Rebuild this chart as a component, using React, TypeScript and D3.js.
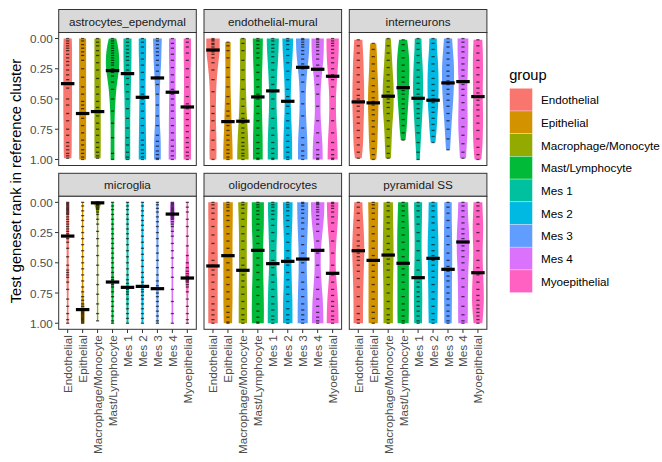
import React from 'react';
import * as d3 from 'd3';

// categories
const groups = [
  'Endothelial',
  'Epithelial',
  'Macrophage/Monocyte',
  'Mast/Lymphocyte',
  'Mes 1',
  'Mes 2',
  'Mes 3',
  'Mes 4',
  'Myoepithelial',
];
const groupColors = ['#F8766D', '#D39200', '#93AA00', '#00BA38', '#00C19F', '#00B9E3', '#619CFF', '#DB72FB', '#FF61C3'];
const clusters = ['astrocytes_ependymal', 'endothelial-mural', 'interneurons', 'microglia', 'oligodendrocytes', 'pyramidal SS'];
const yTicks = [0, 0.25, 0.5, 0.75, 1];

// median rank per group, one array per reference cluster
const mediansAstro = [0.373, 0.62, 0.604, 0.265, 0.29, 0.486, 0.326, 0.444, 0.566];
const mediansEndoMural = [0.095, 0.687, 0.684, 0.483, 0.433, 0.519, 0.238, 0.254, 0.312];
const mediansInter = [0.524, 0.532, 0.477, 0.406, 0.494, 0.51, 0.367, 0.356, 0.48];
const mediansMicro = [0.279, 0.887, 0.004, 0.659, 0.703, 0.695, 0.714, 0.097, 0.626];
const mediansOligo = [0.526, 0.441, 0.562, 0.397, 0.507, 0.488, 0.469, 0.397, 0.587];
const mediansPyr = [0.4, 0.48, 0.436, 0.504, 0.623, 0.463, 0.554, 0.328, 0.582];

// violin width (relative to max) at 11 steps from min to max rank
const widthsAstro = [
  [0.6, 0.65, 0.65, 0.65, 0.65, 0.65, 0.65, 0.62, 0.6, 0.6, 0.55],
  [0.52, 0.52, 0.52, 0.52, 0.52, 0.52, 0.52, 0.52, 0.52, 0.52, 0.5],
  [0.47, 0.47, 0.47, 0.47, 0.47, 0.47, 0.47, 0.47, 0.47, 0.47, 0.45],
  [0.55, 0.9, 1.0, 0.85, 0.6, 0.45, 0.35, 0.3, 0.28, 0.28, 0.28],
  [0.6, 0.6, 0.58, 0.55, 0.5, 0.45, 0.42, 0.4, 0.4, 0.4, 0.4],
  [0.55, 0.55, 0.5, 0.48, 0.46, 0.46, 0.48, 0.5, 0.52, 0.55, 0.55],
  [0.65, 0.6, 0.55, 0.45, 0.38, 0.32, 0.32, 0.36, 0.45, 0.5, 0.5],
  [0.5, 0.5, 0.48, 0.46, 0.46, 0.48, 0.5, 0.52, 0.52, 0.55, 0.55],
  [0.55, 0.55, 0.52, 0.5, 0.5, 0.52, 0.55, 0.55, 0.55, 0.55, 0.55],
];
const widthsEndoMural = [
  [1.0, 0.98, 0.8, 0.62, 0.5, 0.45, 0.43, 0.45, 0.5, 0.52, 0.5],
  [0.4, 0.4, 0.38, 0.38, 0.4, 0.45, 0.5, 0.55, 0.62, 0.68, 0.7],
  [0.45, 0.45, 0.42, 0.42, 0.45, 0.5, 0.55, 0.65, 0.75, 0.82, 0.85],
  [0.75, 0.72, 0.68, 0.62, 0.6, 0.6, 0.62, 0.66, 0.7, 0.72, 0.72],
  [0.9, 0.85, 0.75, 0.65, 0.58, 0.55, 0.58, 0.65, 0.72, 0.75, 0.75],
  [0.8, 0.75, 0.65, 0.55, 0.48, 0.45, 0.48, 0.55, 0.62, 0.65, 0.65],
  [1.0, 0.95, 0.8, 0.62, 0.5, 0.45, 0.48, 0.55, 0.65, 0.7, 0.7],
  [0.92, 0.9, 0.8, 0.62, 0.48, 0.42, 0.42, 0.5, 0.62, 0.72, 0.75],
  [0.92, 0.9, 0.82, 0.7, 0.58, 0.5, 0.5, 0.55, 0.65, 0.72, 0.75],
];
const widthsInter = [
  [0.6, 0.7, 0.78, 0.82, 0.86, 0.88, 0.85, 0.8, 0.75, 0.68, 0.5],
  [0.45, 0.55, 0.6, 0.68, 0.75, 0.78, 0.75, 0.7, 0.65, 0.58, 0.45],
  [0.4, 0.5, 0.6, 0.7, 0.8, 0.82, 0.78, 0.65, 0.55, 0.48, 0.4],
  [0.6, 0.78, 0.9, 0.94, 0.92, 0.88, 0.8, 0.7, 0.6, 0.5, 0.35],
  [0.5, 0.55, 0.65, 0.72, 0.75, 0.72, 0.65, 0.55, 0.45, 0.35, 0.25],
  [0.55, 0.6, 0.7, 0.78, 0.82, 0.82, 0.78, 0.7, 0.6, 0.5, 0.35],
  [0.6, 0.72, 0.84, 0.9, 0.88, 0.82, 0.72, 0.6, 0.5, 0.4, 0.3],
  [0.8, 0.8, 0.75, 0.7, 0.65, 0.65, 0.68, 0.7, 0.65, 0.55, 0.45],
  [0.65, 0.72, 0.75, 0.75, 0.72, 0.72, 0.75, 0.75, 0.72, 0.65, 0.5],
];
const widthsMicro = [
  [0.2, 0.2, 0.2, 0.2, 0.15, 0.15, 0.18, 0.15, 0.12, 0.12, 0.15],
  [0.1, 0.1, 0.1, 0.1, 0.1, 0.1, 0.1, 0.12, 0.18, 0.28, 0.25],
  [0.6, 0.15, 0.1, 0.1, 0.1, 0.1, 0.1, 0.1, 0.1, 0.1, 0.1],
  [0.15, 0.15, 0.15, 0.15, 0.15, 0.15, 0.18, 0.2, 0.15, 0.15, 0.15],
  [0.15, 0.15, 0.15, 0.15, 0.15, 0.15, 0.15, 0.2, 0.18, 0.15, 0.15],
  [0.15, 0.15, 0.15, 0.15, 0.15, 0.15, 0.15, 0.18, 0.16, 0.15, 0.15],
  [0.15, 0.15, 0.15, 0.15, 0.15, 0.15, 0.15, 0.18, 0.16, 0.15, 0.15],
  [0.3, 0.35, 0.22, 0.15, 0.12, 0.12, 0.12, 0.12, 0.12, 0.12, 0.12],
  [0.12, 0.12, 0.12, 0.12, 0.15, 0.22, 0.3, 0.2, 0.12, 0.12, 0.12],
];
const widthsOligo = [
  [0.7, 0.7, 0.68, 0.68, 0.7, 0.72, 0.72, 0.7, 0.7, 0.7, 0.7],
  [0.72, 0.72, 0.7, 0.68, 0.68, 0.68, 0.68, 0.68, 0.68, 0.65, 0.62],
  [0.7, 0.65, 0.6, 0.58, 0.58, 0.58, 0.58, 0.6, 0.62, 0.62, 0.62],
  [0.9, 0.9, 0.88, 0.82, 0.78, 0.78, 0.8, 0.85, 0.88, 0.9, 0.88],
  [0.72, 0.7, 0.65, 0.6, 0.55, 0.55, 0.6, 0.68, 0.72, 0.75, 0.75],
  [0.72, 0.7, 0.65, 0.58, 0.55, 0.55, 0.58, 0.62, 0.68, 0.7, 0.7],
  [0.82, 0.8, 0.75, 0.68, 0.62, 0.6, 0.62, 0.68, 0.72, 0.75, 0.75],
  [1.0, 0.95, 0.8, 0.62, 0.48, 0.45, 0.5, 0.62, 0.75, 0.82, 0.85],
  [0.85, 0.82, 0.72, 0.58, 0.48, 0.45, 0.52, 0.65, 0.78, 0.85, 0.88],
];
const widthsPyr = [
  [0.6, 0.68, 0.78, 0.86, 0.9, 0.85, 0.8, 0.75, 0.72, 0.7, 0.7],
  [0.75, 0.72, 0.7, 0.7, 0.7, 0.7, 0.7, 0.7, 0.7, 0.7, 0.68],
  [0.7, 0.72, 0.75, 0.78, 0.8, 0.78, 0.75, 0.72, 0.7, 0.7, 0.7],
  [0.75, 0.8, 0.85, 0.88, 0.88, 0.85, 0.85, 0.85, 0.85, 0.85, 0.82],
  [0.6, 0.58, 0.55, 0.52, 0.52, 0.55, 0.58, 0.6, 0.62, 0.6, 0.58],
  [0.65, 0.68, 0.72, 0.78, 0.8, 0.78, 0.75, 0.72, 0.7, 0.68, 0.65],
  [0.55, 0.55, 0.58, 0.6, 0.62, 0.62, 0.6, 0.58, 0.58, 0.56, 0.55],
  [0.7, 0.75, 0.85, 0.92, 0.92, 0.85, 0.78, 0.75, 0.72, 0.72, 0.7],
  [0.65, 0.72, 0.78, 0.75, 0.7, 0.72, 0.78, 0.85, 0.88, 0.8, 0.65],
];

// individual gene set ranks (x100), one string per group
const pointsAstro = [
  '00 02 04 06 08 10 13 16 19 22 26 30 34 41 50 55 62 68 75 80 86 89 92 95 97 99',
  '00 02 05 08 11 14 18 25 32 40 46 52 55 58 62 66 72 78 84 88 92 95 98 100',
  '00 03 06 10 14 20 26 33 40 46 52 57 60 64 70 75 80 86 90 94 97 99',
  '00 02 04 06 08 10 12 14 16 18 20 22 25 28 31 36 42 50 60 70 82 95 100',
  '00 03 06 09 12 15 18 22 26 29 33 38 44 50 58 66 74 82 88 94 98 100',
  '00 03 07 12 17 22 28 34 40 46 50 54 60 66 72 78 84 88 92 95 98 100',
  '00 02 05 08 11 14 18 22 27 32 38 46 55 64 72 80 85 89 93 96 99 100',
  '00 04 08 13 18 24 30 36 42 46 50 55 60 66 72 78 84 89 93 97 100',
  '00 03 07 12 18 25 32 40 48 54 58 62 67 72 77 82 86 90 94 97 100',
];
const pointsEndoMural = [
  '00 01 02 04 05 07 09 11 13 16 20 26 34 44 56 62 68 76 84 92 100',
  '03 06 10 16 24 32 40 48 54 60 64 68 72 76 80 84 88 92 95 98 100',
  '00 04 10 18 26 34 42 50 56 62 66 70 74 78 82 86 89 92 95 97 100',
  '00 02 05 08 12 16 22 28 34 40 46 50 56 62 68 74 80 86 91 95 99 100',
  '00 02 05 08 11 15 20 26 32 38 44 50 58 66 74 80 86 91 95 99 100',
  '00 02 05 09 14 20 27 34 42 48 52 56 62 68 74 80 85 90 94 98 100',
  '00 01 03 05 07 10 13 17 21 25 30 36 44 54 64 74 82 88 93 97 100',
  '00 01 03 05 07 10 13 17 22 26 31 38 46 56 68 78 86 92 96 99 100',
  '00 02 04 06 09 12 16 20 25 30 34 40 48 58 68 78 86 92 96 99 100',
];
const pointsInter = [
  '01 06 12 18 24 30 36 42 47 50 53 56 60 65 70 76 82 88 94 99',
  '04 09 15 21 27 33 39 44 49 52 55 59 63 68 73 79 85 91 96 100',
  '00 06 12 18 24 30 35 40 44 47 50 53 57 62 68 75 82 89 95 99',
  '01 05 10 16 22 27 32 36 40 43 46 50 54 58 62 67 72 78 84',
  '00 04 09 14 20 26 32 37 42 46 50 54 58 62 66 72 78 86 94 100',
  '00 04 09 15 21 27 33 38 43 47 50 53 57 61 66 71 76 81 86',
  '00 03 07 12 17 22 27 31 35 38 42 46 51 56 62 68 75 83 92',
  '00 03 07 11 16 21 26 31 35 38 42 47 53 59 66 73 80 87 94 99',
  '01 06 12 18 24 30 36 41 45 48 51 55 59 64 70 76 83 90 96 100',
];
const pointsMicro = [
  '00 01 02 03 04 05 06 07 08 09 10 12 14 16 18 20 22 24 26 28 30 33 38 45 52 56 58 60 62 66 72 80 86 92 97 100',
  '00 03 07 11 15 20 25 30 35 40 45 50 55 60 65 70 74 78 81 84 86 88 89 90 91 92 93 94 95 96 97 98 99 100',
  '00 00 00 01 01 02 02 03 04 05 06 08 10 14 18 24 30 36 44 52 60 68 76 84 92 98',
  '00 03 06 10 14 18 22 26 30 34 38 42 46 50 54 58 62 64 66 68 70 74 78 82 86 90 94 98 100',
  '00 03 06 10 14 18 22 26 30 35 40 45 50 55 60 64 67 70 72 74 76 80 84 88 92 96 100',
  '00 03 07 11 15 19 23 28 33 38 43 48 53 58 62 66 69 72 74 77 80 84 88 92 96 100',
  '00 02 05 08 12 16 20 25 30 36 42 48 54 60 65 69 72 75 78 82 86 90 94 98 100',
  '00 01 02 03 04 05 06 07 08 09 10 11 12 13 14 16 18 20 24 28 34 40 46 54 62 72 82 92 100',
  '00 04 08 14 20 28 36 44 50 54 57 59 61 62 63 64 65 66 68 70 74 80 86 92 97 100',
];
const pointsOligo = [
  '00 02 05 09 14 20 27 34 42 48 52 56 60 66 72 78 84 89 93 97 100',
  '00 02 04 07 11 15 20 26 32 38 44 50 56 62 68 74 80 86 91 95 99 100',
  '00 02 05 09 14 20 26 32 39 46 52 56 60 65 70 76 82 88 93 97 100',
  '00 02 04 07 10 14 18 23 28 34 40 46 52 58 64 70 77 84 90 95 99 100',
  '00 02 04 07 10 14 19 25 32 40 48 54 60 66 72 78 84 89 94 97 100',
  '00 02 04 07 11 15 20 26 33 40 46 52 58 64 70 76 82 88 93 97 100',
  '00 01 03 06 09 13 17 22 28 35 42 50 58 66 72 78 84 89 93 97 100',
  '00 01 02 04 06 08 11 14 18 24 32 42 52 62 72 80 86 91 95 98 100',
  '00 01 03 05 08 12 17 24 32 42 52 60 66 72 77 82 86 90 94 97 100',
];
const pointsPyr = [
  '00 04 09 15 21 27 32 36 39 42 45 48 52 57 63 70 78 86 92 97 100',
  '00 02 05 09 14 20 26 32 38 44 48 52 57 62 68 74 80 86 91 96 100',
  '00 03 07 12 17 22 28 34 39 43 47 51 56 62 68 75 82 88 93 97 100',
  '00 03 07 11 16 21 27 33 39 45 50 55 60 66 72 78 84 89 94 98 100',
  '00 03 07 12 18 25 32 40 48 56 62 66 70 74 78 82 86 90 94 98 100',
  '00 03 07 12 17 23 29 35 40 44 48 52 57 62 68 74 80 86 92 97 100',
  '00 04 09 15 21 28 35 42 48 53 57 61 65 70 75 80 85 90 94 98 100',
  '00 03 07 12 17 22 26 30 33 36 40 45 50 56 63 70 78 86 93 98 100',
  '00 03 07 12 18 25 32 40 48 54 60 66 72 77 81 85 88 91 94 97 100',
];

const allMedians = [mediansAstro, mediansEndoMural, mediansInter, mediansMicro, mediansOligo, mediansPyr];
const allWidths = [widthsAstro, widthsEndoMural, widthsInter, widthsMicro, widthsOligo, widthsPyr];
const allPoints = [pointsAstro, pointsEndoMural, pointsInter, pointsMicro, pointsOligo, pointsPyr];

const WIDTH = 662;
const HEIGHT = 462;
const FONT = "'Liberation Sans', Arial, Helvetica, sans-serif";
const panelLeft = [58.7, 204, 349.3];
const panelW = 137.6;
const plotTop = [32.5, 196.3];
const plotH = 133;
const stripH = 23;

interface Sample {
  v: number;
  w: number;
}

const Panel: React.FC<{ idx: number }> = ({ idx }) => {
  const col = idx % 3;
  const row = Math.floor(idx / 3);
  const x0 = panelLeft[col];
  const top = plotTop[row];

  const x = d3.scalePoint<string>().domain(groups).range([x0, x0 + panelW]).padding(0.6);
  const y = d3.scaleLinear().domain([-0.05, 1.05]).range([top, top + plotH]);
  const step = x.step();
  const half = 0.45 * step;

  const medians = allMedians[idx];
  const widths = allWidths[idx];
  const points = allPoints[idx].map((s) => s.split(' ').map((t) => +t / 100));

  return (
    <g>
      {/* strip */}
      <rect x={x0} y={top - stripH} width={panelW} height={stripH} fill="#D9D9D9" stroke="#333333" strokeWidth={1} />
      <text
        x={x0 + panelW / 2}
        y={top - stripH / 2}
        textAnchor="middle"
        dominantBaseline="central"
        fontSize={11.7}
        fill="#1A1A1A"
      >
        {clusters[idx]}
      </text>
      <rect x={x0} y={top} width={panelW} height={plotH} fill="#FFFFFF" />

      {/* violins */}
      {groups.map((g, i) => {
        const pts = points[i];
        const lo = d3.min(pts) as number;
        const hi = d3.max(pts) as number;
        const cx = x(g) as number;
        const samples: Sample[] = widths[i].map((w, k) => ({ v: lo + ((hi - lo) * k) / 10, w }));
        const area = d3
          .area<Sample>()
          .y((d) => y(d.v))
          .x0((d) => cx - d.w * half)
          .x1((d) => cx + d.w * half)
          .curve(d3.curveMonotoneY);
        return <path key={g} d={area(samples) || ''} fill={groupColors[i]} />;
      })}

      {/* points */}
      {groups.map((g, i) => {
        const cx = x(g) as number;
        return points[i].map((v, k) => (
          <rect
            key={`${g}-${k}`}
            x={cx - 1.6}
            y={y(v) - 0.65}
            width={3.2}
            height={1.3}
            fill="#000000"
            opacity={0.65}
          />
        ));
      })}

      {/* medians */}
      {groups.map((g, i) => {
        const cx = x(g) as number;
        return <rect key={`m-${g}`} x={cx - half} y={y(medians[i]) - 1.6} width={2 * half} height={3.2} fill="#000000" />;
      })}

      <rect x={x0} y={top} width={panelW} height={plotH} fill="none" stroke="#333333" strokeWidth={1} />

      {/* y axis */}
      {col === 0 &&
        yTicks.map((t) => (
          <g key={t}>
            <line x1={x0 - 3.7} x2={x0} y1={y(t)} y2={y(t)} stroke="#333333" strokeWidth={1} />
            <text x={x0 - 5.9} y={y(t)} textAnchor="end" dominantBaseline="central" fontSize={11.7} fill="#4D4D4D">
              {d3.format('.2f')(t)}
            </text>
          </g>
        ))}

      {/* x axis */}
      {row === 1 &&
        groups.map((g) => {
          const cx = x(g) as number;
          const yb = top + plotH;
          return (
            <g key={`x-${g}`}>
              <line x1={cx} x2={cx} y1={yb} y2={yb + 3.7} stroke="#333333" strokeWidth={1} />
              <text
                transform={`translate(${cx},${yb + 5.9}) rotate(-90)`}
                textAnchor="end"
                dominantBaseline="central"
                fontSize={11.7}
                fill="#4D4D4D"
              >
                {g}
              </text>
            </g>
          );
        })}
    </g>
  );
};

export default function App() {
  const legendX = 509.7;
  const legendY = 88.3;
  const keySize = 22.7;
  return (
    <div style={{ position: 'fixed', left: 0, top: 0, width: WIDTH, height: HEIGHT, background: '#FFFFFF' }}>
      <svg width={WIDTH} height={HEIGHT} style={{ display: 'block', fontFamily: FONT }}>
        <rect width={WIDTH} height={HEIGHT} fill="#FFFFFF" />
        {clusters.map((c, i) => (
          <Panel key={c} idx={i} />
        ))}

        <text transform="translate(21,181) rotate(-90)" textAnchor="middle" fontSize={14.67} fill="#000000">
          Test geneset rank in reference cluster
        </text>

        {/* legend */}
        <text x={legendX - 0.5} y={80} fontSize={14.67} fill="#000000">
          group
        </text>
        {groups.map((g, i) => (
          <g key={`leg-${g}`}>
            <rect
              x={legendX}
              y={legendY + i * keySize}
              width={keySize}
              height={keySize}
              fill={groupColors[i]}
              stroke="#FFFFFF"
              strokeOpacity={0.5}
              strokeWidth={0.6}
            />
            <text
              x={legendX + keySize + 8.5}
              y={legendY + i * keySize + keySize / 2}
              dominantBaseline="central"
              fontSize={11.7}
              fill="#000000"
            >
              {g}
            </text>
          </g>
        ))}
      </svg>
    </div>
  );
}
